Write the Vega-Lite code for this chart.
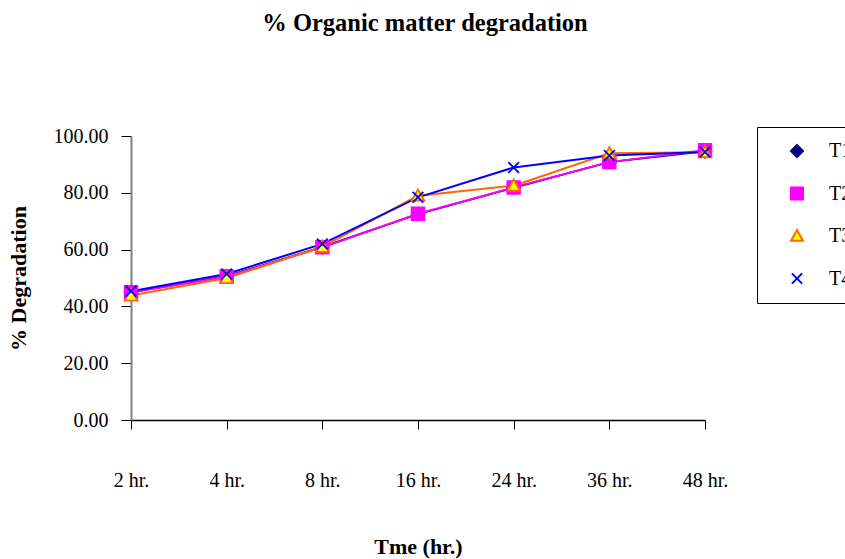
{
  "$schema": "https://vega.github.io/schema/vega-lite/v6.json",
  "width": 574,
  "height": 284,
  "autosize": {"type": "none"},
  "padding": {"left": 131, "top": 136, "right": 140, "bottom": 139},
  "background": "white",
  "title": {
    "text": "% Organic matter degradation",
    "font": "Liberation Serif",
    "fontSize": 24.5,
    "fontWeight": "bold",
    "color": "black",
    "anchor": "middle",
    "frame": "group",
    "baseline": "middle",
    "offset": 78,
    "dx": 7
  },
  "config": {
    "font": "Liberation Serif",
    "view": {"stroke": null},
    "legend": {
      "symbolStrokeWidth": 2
    }
  },
  "data": {
    "values": [
      {"time": "2 hr.", "series": "T1", "value": 45.0},
      {"time": "4 hr.", "series": "T1", "value": 50.6},
      {"time": "8 hr.", "series": "T1", "value": 60.9},
      {"time": "16 hr.", "series": "T1", "value": 72.5},
      {"time": "24 hr.", "series": "T1", "value": 81.8},
      {"time": "36 hr.", "series": "T1", "value": 90.8},
      {"time": "48 hr.", "series": "T1", "value": 94.6},
      {"time": "2 hr.", "series": "T2", "value": 45.0},
      {"time": "4 hr.", "series": "T2", "value": 50.5},
      {"time": "8 hr.", "series": "T2", "value": 60.8},
      {"time": "16 hr.", "series": "T2", "value": 72.6},
      {"time": "24 hr.", "series": "T2", "value": 81.9},
      {"time": "36 hr.", "series": "T2", "value": 90.8},
      {"time": "48 hr.", "series": "T2", "value": 95.0},
      {"time": "2 hr.", "series": "T3", "value": 43.8},
      {"time": "4 hr.", "series": "T3", "value": 50.0},
      {"time": "8 hr.", "series": "T3", "value": 61.0},
      {"time": "16 hr.", "series": "T3", "value": 79.0},
      {"time": "24 hr.", "series": "T3", "value": 82.5},
      {"time": "36 hr.", "series": "T3", "value": 93.9},
      {"time": "48 hr.", "series": "T3", "value": 94.3},
      {"time": "2 hr.", "series": "T4", "value": 45.3},
      {"time": "4 hr.", "series": "T4", "value": 51.4},
      {"time": "8 hr.", "series": "T4", "value": 62.0},
      {"time": "16 hr.", "series": "T4", "value": 78.4},
      {"time": "24 hr.", "series": "T4", "value": 88.9},
      {"time": "36 hr.", "series": "T4", "value": 93.1},
      {"time": "48 hr.", "series": "T4", "value": 94.4}
    ]
  },
  "encoding": {
    "x": {
      "field": "time",
      "type": "ordinal",
      "sort": ["2 hr.", "4 hr.", "8 hr.", "16 hr.", "24 hr.", "36 hr.", "48 hr."],
      "scale": {"type": "point", "padding": 0},
      "axis": {
        "title": "Tme (hr.)",
        "titleFont": "Liberation Serif",
        "titleFontSize": 22,
        "titleFontWeight": "bold",
        "titleColor": "black",
        "titlePadding": 46,
        "labelAngle": 0,
        "labelFont": "Liberation Serif",
        "labelFontSize": 20,
        "labelColor": "black",
        "labelPadding": 41,
        "tickSize": 9,
        "tickColor": "black",
        "domainColor": "black",
        "domainWidth": 1.5,
        "grid": false
      }
    },
    "y": {
      "field": "value",
      "type": "quantitative",
      "scale": {"domain": [0, 100], "nice": false},
      "axis": {
        "title": "% Degradation",
        "titleFont": "Liberation Serif",
        "titleFontSize": 22,
        "titleFontWeight": "bold",
        "titleColor": "black",
        "titlePadding": 23,
        "values": [0, 20, 40, 60, 80, 100],
        "format": ".2f",
        "labelFont": "Liberation Serif",
        "labelFontSize": 20,
        "labelColor": "black",
        "labelPadding": 13,
        "tickSize": 10,
        "tickColor": "black",
        "domainColor": "#808080",
        "domainWidth": 2,
        "grid": false
      }
    }
  },
  "layer": [
    {
      "mark": {"type": "line", "strokeWidth": 2},
      "encoding": {
        "stroke": {
          "field": "series",
          "type": "nominal",
          "scale": {"domain": ["T1", "T2", "T3", "T4"], "range": ["#000080", "#FF00FF", "#FF6600", "#0000FF"]}
        },
        "order": {"field": "series"}
      }
    },
    {
      "mark": {"type": "point", "size": 160, "strokeWidth": 1.8, "opacity": 1},
      "encoding": {
        "stroke": {
          "field": "series",
          "type": "nominal",
          "scale": {"domain": ["T1", "T2", "T3", "T4"], "range": ["#000080", "#FF00FF", "#FF6600", "#0000FF"]}
        },
        "fill": {
          "field": "series",
          "type": "nominal",
          "scale": {"domain": ["T1", "T2", "T3", "T4"], "range": ["#000080", "#FF00FF", "#FFFF00", "transparent"]}
        },
        "shape": {
          "field": "series",
          "type": "nominal",
          "scale": {
            "domain": ["T1", "T2", "T3", "T4"],
            "range": [
              "M0,-1L1,0L0,1L-1,0Z",
              "M-1,-1H1V1H-1Z",
              "M0,-1L1,0.8H-1Z",
              "M-0.85,-0.85L0.85,0.85M0.85,-0.85L-0.85,0.85"
            ]
          },
          "legend": {
            "title": null,
            "orient": "none",
            "legendX": 626,
            "legendY": -9,
            "padding": 14,
            "strokeColor": "black",
            "fillColor": "white",
            "symbolSize": 144,
            "symbolOffset": 16,
            "labelOffset": 22,
            "rowPadding": 22.5,
            "labelFont": "Liberation Serif",
            "labelFontSize": 20,
            "labelColor": "black"
          }
        },
        "order": {"field": "series"}
      }
    }
  ]
}
